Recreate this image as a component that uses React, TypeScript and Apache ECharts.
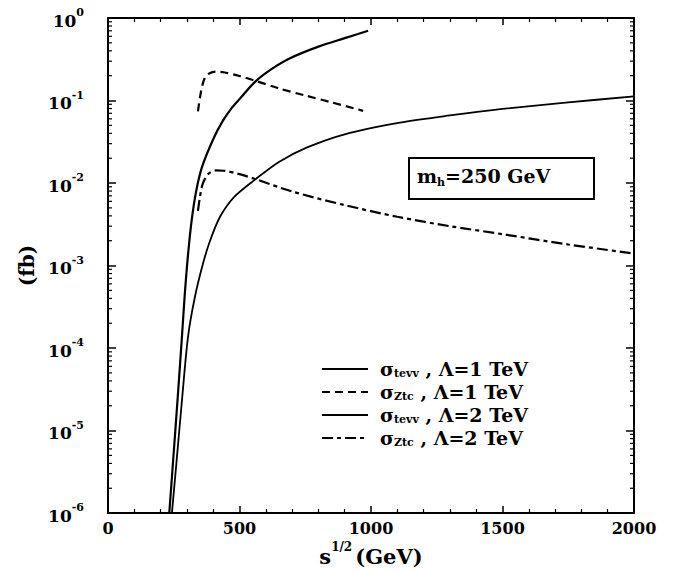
import React, { useEffect, useRef } from 'react';
import * as echarts from 'echarts';

const xTickValues = [0, 500, 1000, 1500, 2000];
const yExponents = [-6, -5, -4, -3, -2, -1, 0];

const tevv1: [number, number][] = [[233,1e-6],[250,5.5e-6],[265,2.5e-5],[281,1.35e-4],[292,4.5e-4],[304,1.32e-3],[318,3.5e-3],[335,7.9e-3],[357,0.0155],[400,0.034],[437,0.057],[470,0.081],[500,0.104],[559,0.168],[620,0.238],[692,0.325],[800,0.45],[900,0.57],[989,0.70]];
const ztc1: [number, number][] = [[342,0.074],[350,0.11],[358,0.15],[369,0.19],[385,0.213],[410,0.224],[440,0.22],[500,0.198],[559,0.174],[650,0.14],[750,0.115],[850,0.095],[970,0.075]];
const tevv2: [number, number][] = [[243,1e-6],[260,4e-6],[280,2.1e-5],[304,1.35e-4],[330,4.1e-4],[361,1.05e-3],[388,2.0e-3],[426,3.9e-3],[480,6.8e-3],[559,0.011],[650,0.018],[757,0.027],[900,0.039],[1110,0.054],[1300,0.066],[1500,0.079],[1750,0.095],[2000,0.112]];
const ztc2: [number, number][] = [[342,0.0046],[350,0.0069],[358,0.0093],[369,0.0113],[385,0.0132],[410,0.0142],[440,0.0141],[500,0.0128],[559,0.0112],[700,0.0079],[900,0.0054],[1100,0.0039],[1300,0.003],[1500,0.0024],[1750,0.0018],[2000,0.0014]];

const seriesNames = ['σtevv , Λ=1 TeV', 'σZtc , Λ=1 TeV', 'σtevv , Λ=2 TeV', 'σZtc , Λ=2 TeV'];

const minorYValues: number[] = [];
for (let e = -6; e < 0; e++) for (let k = 2; k <= 9; k++) minorYValues.push(k * Math.pow(10, e));

const FONT = '"DejaVu Serif", "Liberation Serif", serif';

export default function App() {
  const ref = useRef<HTMLDivElement>(null);
  useEffect(() => {
    if (!ref.current) return;
    const chart = echarts.init(ref.current, undefined, { renderer: 'svg' });
    const lineBase = { type: 'line', symbol: 'none', showSymbol: false, smooth: 0.3, clip: true, xAxisIndex: 0, yAxisIndex: 0 };
    const yLabel = (v: number) => {
      const e = Math.round(Math.log10(v));
      return yExponents.includes(e) ? `{b|10}{s|${e}}` : '';
    };
    const yRich = {
      b: { fontFamily: FONT, fontWeight: 'bold', fontSize: 17, color: '#000', verticalAlign: 'bottom', lineHeight: 22 },
      s: { fontFamily: FONT, fontWeight: 'bold', fontSize: 11, color: '#000', verticalAlign: 'top', lineHeight: 22 },
    };
    const option: any = {
      animation: false,
      backgroundColor: '#fff',
      grid: { left: 108, right: 55, top: 18, bottom: 51, containLabel: false },
      xAxis: [
        {
          type: 'value', min: 0, max: 2000, interval: 500, position: 'bottom',
          axisLine: { show: true, onZero: false, lineStyle: { color: '#000', width: 2 } },
          axisTick: { show: true, inside: true, length: 7, lineStyle: { color: '#000', width: 1.5 } },
          minorTick: { show: true, splitNumber: 5, length: 4, lineStyle: { color: '#000', width: 1.2 } },
          splitLine: { show: false },
          axisLabel: { color: '#000', fontFamily: FONT, fontWeight: 'bold', fontSize: 16, margin: 7, formatter: (v: number) => xTickValues.includes(v) ? String(v) : '' },
          name: '{b|s}{s|1/2}{b|(GeV)}', nameLocation: 'middle', nameGap: 25,
          nameTextStyle: { rich: {
            b: { fontFamily: FONT, fontWeight: 'bold', fontSize: 21, color: '#000', verticalAlign: 'bottom', lineHeight: 26 },
            s: { fontFamily: FONT, fontWeight: 'bold', fontSize: 12, color: '#000', verticalAlign: 'top', lineHeight: 26, padding: [0, 3, 0, 0] },
          } },
        },
        {
          type: 'value', min: 0, max: 2000, interval: 500, position: 'top',
          axisLine: { show: true, onZero: false, lineStyle: { color: '#000', width: 2 } },
          axisTick: { show: true, inside: true, length: 7, lineStyle: { color: '#000', width: 1.5 } },
          minorTick: { show: true, splitNumber: 5, length: 4, lineStyle: { color: '#000', width: 1.2 } },
          splitLine: { show: false }, axisLabel: { show: false },
        },
      ],
      yAxis: [
        {
          type: 'log', logBase: 10, min: 1e-6, max: 1, interval: 1, position: 'left',
          axisLine: { show: true, onZero: false, lineStyle: { color: '#000', width: 2 } },
          axisTick: { show: true, inside: true, length: 8, lineStyle: { color: '#000', width: 1.5 } },
          splitLine: { show: false },
          axisLabel: { margin: 24, formatter: yLabel, rich: yRich },
          name: '(fb)', nameLocation: 'middle', nameGap: 68,
          nameTextStyle: { fontFamily: FONT, fontWeight: 'bold', fontSize: 20, color: '#000' },
        },
        {
          type: 'log', logBase: 10, min: 1e-6, max: 1, interval: 1, position: 'right',
          axisLine: { show: true, onZero: false, lineStyle: { color: '#000', width: 2 } },
          axisTick: { show: true, inside: true, length: 8, lineStyle: { color: '#000', width: 1.5 } },
          splitLine: { show: false }, axisLabel: { show: false },
        },
      ],
      legend: {
        data: seriesNames,
        orient: 'vertical', left: 316, top: 354, itemWidth: 46, itemHeight: 14, itemGap: 3,
        itemStyle: { opacity: 0 },
        formatter: (name: string) => {
          const m = name.match(/^σ(\w+)(.*)$/);
          if (!m) return name;
          return `{g|σ}{sub|${m[1]}}{t|${m[2]}}`;
        },
        textStyle: {
          rich: {
            g: { fontFamily: FONT, fontWeight: 'bold', fontSize: 19, color: '#000', padding: [0, 0, 0, 7], verticalAlign: 'top', lineHeight: 20 },
            sub: { fontFamily: FONT, fontWeight: 'bold', fontSize: 11, color: '#000', verticalAlign: 'bottom', lineHeight: 20 },
            t: { fontFamily: FONT, fontWeight: 'bold', fontSize: 19, color: '#000', verticalAlign: 'top', lineHeight: 20 },
          },
        },
      },
      graphic: [
        { type: 'rect', left: 408, top: 157, shape: { width: 185, height: 41 }, style: { fill: '#fff', stroke: '#000', lineWidth: 2 }, z: 10 },
        { type: 'text', left: 417, top: 166, z: 11, style: { text: '{m|m}{h|h}{m|=250 GeV}', rich: {
          m: { fontFamily: FONT, fontWeight: 'bold', fontSize: 19, fill: '#000', verticalAlign: 'top', lineHeight: 22 },
          h: { fontFamily: FONT, fontWeight: 'bold', fontSize: 11, fill: '#000', verticalAlign: 'bottom', lineHeight: 22 },
        } } },
      ],
      series: [
        { ...lineBase, name: seriesNames[0], data: tevv1, lineStyle: { color: '#000', width: 2.2, type: 'solid' }, itemStyle: { color: '#000' } },
        { ...lineBase, name: seriesNames[1], data: ztc1, lineStyle: { color: '#000', width: 2.2, type: [8, 5] }, itemStyle: { color: '#000' } },
        { ...lineBase, name: seriesNames[2], data: tevv2, lineStyle: { color: '#000', width: 1.8, type: 'solid' }, itemStyle: { color: '#000' } },
        { ...lineBase, name: seriesNames[3], data: ztc2, lineStyle: { color: '#000', width: 2.2, type: [11, 4, 4, 4] }, itemStyle: { color: '#000' } },
        {
          type: 'custom', name: 'minorTicks', xAxisIndex: 0, yAxisIndex: 0, silent: true, clip: false,
          data: minorYValues.map((v) => [0, v]),
          renderItem: (params: any, api: any) => {
            const v = api.value(1);
            const l = api.coord([0, v]);
            const r = api.coord([2000, v]);
            return {
              type: 'group',
              children: [
                { type: 'line', shape: { x1: l[0], y1: l[1], x2: l[0] + 4, y2: l[1] }, style: { stroke: '#000', lineWidth: 1.2 } },
                { type: 'line', shape: { x1: r[0], y1: r[1], x2: r[0] - 4, y2: r[1] }, style: { stroke: '#000', lineWidth: 1.2 } },
              ],
            };
          },
        },
      ],
    };
    chart.setOption(option);
    return () => chart.dispose();
  }, []);
  return <div ref={ref} style={{ position: 'fixed', left: 0, top: 0, width: 689, height: 572, background: '#fff' }} />;
}
